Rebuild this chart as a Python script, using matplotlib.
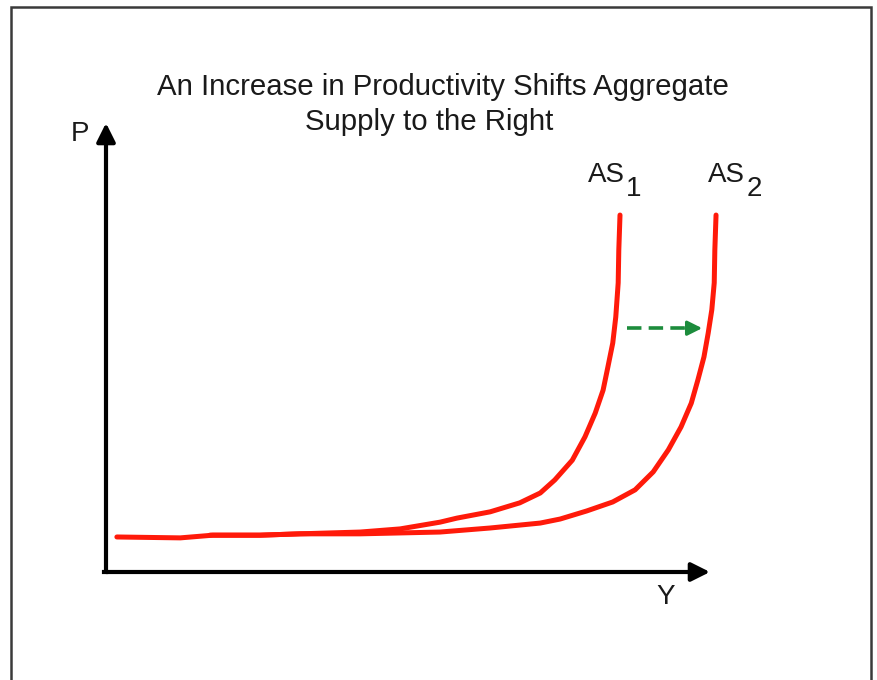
import matplotlib.pyplot as plt
from matplotlib.patches import Rectangle

plt.rcParams['font.family'] = ['Liberation Sans', 'DejaVu Sans']

# curve points (Y = output, P = price level, 0..100 scale)
as1_y = [1.8, 12.3, 17.7, 25.5, 32.1, 42.1, 48.7, 55.3, 58.1, 63.6, 68.5, 71.9,
         74.3, 77.2, 79.3, 81.0, 82.3, 83.1, 83.9, 84.4, 84.8, 84.9, 85.1]
as1_p = [7.8, 7.6, 8.2, 8.2, 8.5, 8.9, 9.6, 11.1, 12.0, 13.4, 15.4, 17.6,
         20.5, 24.9, 30.1, 35.4, 40.5, 45.7, 51.0, 56.8, 64.4, 71.7, 79.5]

as2_y = [17.2, 25.5, 32.1, 42.1, 48.7, 55.3, 63.6, 71.9, 75.2, 79.6, 83.9, 87.6,
         90.6, 93.1, 95.2, 96.9, 98.0, 99.0, 99.7, 100.3, 100.7, 100.8, 101.0]
as2_p = [8.2, 8.2, 8.5, 8.5, 8.7, 8.9, 9.8, 10.9, 11.8, 13.6, 15.6, 18.3,
         22.3, 27.2, 32.3, 37.6, 42.8, 47.9, 53.2, 58.4, 64.4, 71.7, 79.5]

# shift arrow between the two curves
shift_y = [86.3, 98.7]
shift_p = [54.3, 54.3]

title_lines = ["An Increase in Productivity Shifts Aggregate", "Supply to the Right"]
curve_names = ["AS", "AS"]
curve_subs = ["1", "2"]
x_label = "Y"
y_label = "P"

W, H = 878, 680
fig = plt.figure(figsize=(W / 100, H / 100), dpi=100)

# axes box: origin of the diagram to the arrow tips
ax = fig.add_axes([106 / W, (H - 572) / H, 604 / W, 449 / H])
ax.set_xlim(0, 100)
ax.set_ylim(0, 100)
ax.axis('off')

# outer frame
fig.patches.append(Rectangle((11 / W, -0.05), 860 / W, 1.05 - 7 / H,
                             transform=fig.transFigure, fill=False,
                             edgecolor='#3a3a3a', lw=1.8))

# axes with arrow heads
ax.annotate('', xy=(1, 0), xytext=(0, 0), xycoords='axes fraction',
            arrowprops=dict(arrowstyle='-|>', lw=3, color='black',
                            mutation_scale=28, shrinkA=0, shrinkB=0))
ax.annotate('', xy=(0, 1), xytext=(0, 0), xycoords='axes fraction',
            arrowprops=dict(arrowstyle='-|>', lw=3, color='black',
                            mutation_scale=28, shrinkA=0, shrinkB=0))
ax.plot([-0.25, 0], [0, 0], color='black', lw=3, solid_capstyle='projecting', clip_on=False)

# aggregate supply curves
red = '#ff1a0a'
ax.plot(as1_y, as1_p, color=red, lw=3.6, solid_capstyle='round',
        solid_joinstyle='round', clip_on=False)
ax.plot(as2_y, as2_p, color=red, lw=3.6, solid_capstyle='round',
        solid_joinstyle='round', clip_on=False)

# green dashed shift arrow: dashed shaft plus a solid head
green = '#1c8c3c'
head_len = 2.2
ax.plot([shift_y[0], shift_y[1] - head_len], shift_p, color=green, lw=2.6,
        dashes=(4.0, 2.0))
ax.annotate('', xy=(shift_y[1], shift_p[1]), xytext=(shift_y[1] - head_len - 0.5, shift_p[0]),
            arrowprops=dict(arrowstyle='-|>', lw=2.2, color=green,
                            mutation_scale=22, shrinkA=0, shrinkB=0))

# texts
fig.text(443 / W, 1 - 87 / H, title_lines[0], ha='center', va='center',
         fontsize=21.2, color='#1a1a1a')
fig.text(429 / W, 1 - 122 / H, title_lines[1], ha='center', va='center',
         fontsize=21.2, color='#1a1a1a')

fig.text(80 / W, 1 - 134 / H, y_label, ha='center', va='center', fontsize=20, color='#1a1a1a')
fig.text(666 / W, 1 - 597 / H, x_label, ha='center', va='center', fontsize=20, color='#1a1a1a')

label_x = [606, 726]
for name, sub, lx in zip(curve_names, curve_subs, label_x):
    fig.text(lx / W, 1 - 175 / H, name, ha='center', va='center', fontsize=20, color='#1a1a1a')
    fig.text((lx + 28) / W, 1 - 189 / H, sub, ha='center', va='center', fontsize=20, color='#1a1a1a')

fig.savefig('out.png', dpi=100)
